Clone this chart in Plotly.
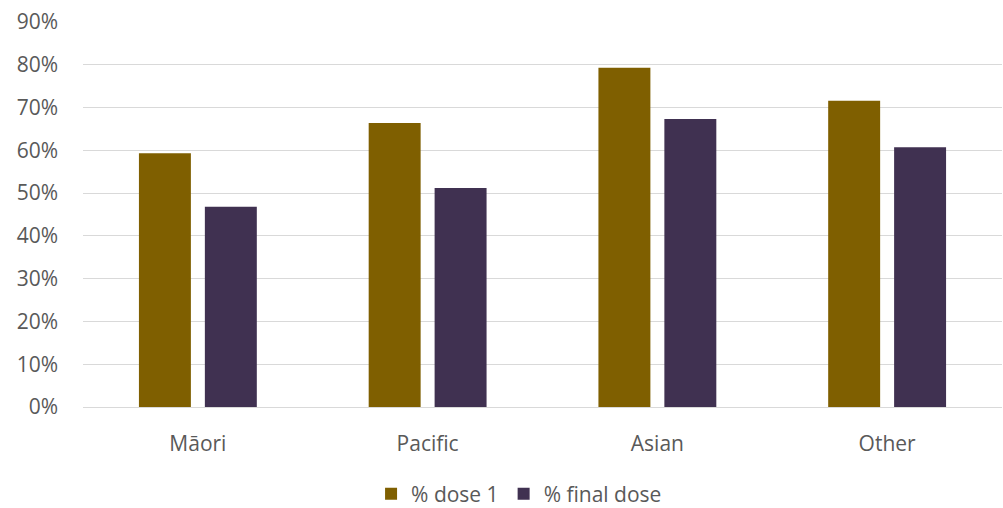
import plotly.graph_objects as go

# Vaccination coverage by ethnicity
ethnicities = ["Māori", "Pacific", "Asian", "Other"]
dose1_pct = [59.3, 66.4, 79.3, 71.6]
final_dose_pct = [46.8, 51.2, 67.3, 60.7]
y_ticks = [0, 10, 20, 30, 40, 50, 60, 70, 80, 90]
y_tick_labels = [f"{v}%" for v in y_ticks]

text_color = "#595959"
font_family = "Open Sans, Segoe UI, sans-serif"
font_size = 21

fig = go.Figure()
fig.add_trace(go.Bar(
    name="% dose 1", x=ethnicities, y=dose1_pct,
    marker=dict(color="#7F5F00", line=dict(width=0)),
))
fig.add_trace(go.Bar(
    name="% final dose", x=ethnicities, y=final_dose_pct,
    marker=dict(color="#403151", line=dict(width=0)),
))

fig.update_layout(
    width=1003, height=508,
    margin=dict(l=83, r=1, t=22, b=101, autoexpand=False),
    plot_bgcolor="white", paper_bgcolor="white",
    barmode="group", bargap=0.426, bargroupgap=0.212,
    font=dict(family=font_family, size=font_size, color=text_color),
    showlegend=True,
    legend=dict(
        orientation="h", x=0.4745, xanchor="center", y=-0.226, yanchor="middle",
        font=dict(size=font_size, color=text_color), itemwidth=30,
        borderwidth=0,
    ),
    xaxis=dict(
        showgrid=False, showline=True, linecolor="#D9D9D9", linewidth=1,
        ticks="", ticklabelstandoff=18,
        tickfont=dict(size=font_size, color=text_color),
    ),
    yaxis=dict(
        range=[0, 90], tickvals=y_ticks, ticktext=y_tick_labels,
        showgrid=True, gridcolor="#D9D9D9", gridwidth=1,
        zeroline=False, showline=False, ticks="",
        ticklabelstandoff=24,
        tickfont=dict(size=font_size, color=text_color),
    ),
)

fig.write_html("out.html")
